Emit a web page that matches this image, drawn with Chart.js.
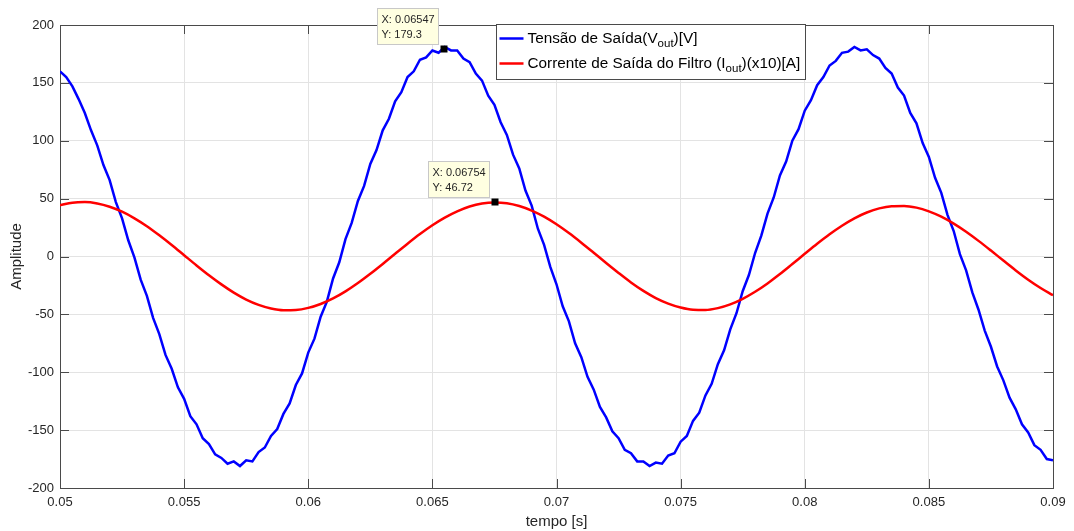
<!DOCTYPE html>
<html>
<head>
<meta charset="utf-8">
<script src="https://cdn.jsdelivr.net/npm/chart.js@4.4.0/dist/chart.umd.min.js"></script>
<style>
  html, body { margin: 0; padding: 0; background: #fff; }
  #wrap { width: 1074px; height: 531px; }
</style>
</head>
<body>
<div id="wrap"><canvas id="chart" width="1074" height="531"></canvas></div>
<script>
// ── Data ──────────────────────────────────────────────
const tStart = 0.05;
const dtVout = 0.00025;   // sampling step of the voltage trace
const dtIout = 0.0005;    // sampling step of the current trace

// Tensão de Saída [V]
const vout = [
  160, 155, 147, 136, 124, 109, 96, 79, 66, 47,
  33, 14, -1, -20, -34, -53, -67, -85, -97, -113,
  -123, -138, -145, -157, -162, -171, -174, -179, -177, -181,
  -176, -177, -169, -165, -155, -149, -136, -127, -111, -101,
  -83, -71, -52, -39, -19, -5, 15, 29, 48, 61,
  80, 92, 109, 119, 134, 142, 155, 160, 170, 172,
  178, 176, 181, 178, 178, 171, 168, 158, 152, 139,
  131, 116, 105, 88, 76, 57, 44, 24, 10, -9,
  -24, -43, -56, -75, -87, -104, -115, -130, -139, -151,
  -157, -167, -170, -177, -177, -181, -178, -179, -172, -170,
  -160, -155, -142, -135, -120, -110, -93, -81, -63, -49,
  -30, -16, 3, 18, 37, 51, 70, 82, 100, 110,
  126, 135, 148, 155, 165, 169, 176, 177, 181, 178,
  179, 174, 171, 163, 158, 146, 139, 124, 115, 98,
  86, 68, 55, 36, 22, 2, -12, -31, -46, -64,
  -78, -95, -107, -122, -132, -145, -152, -163, -167, -175,
  -176
];

// Corrente de Saída do Filtro (x10) [A]
const iout = [
  44.3, 46.5, 47.0, 45.8, 43.0, 38.7, 33.0, 26.2, 18.3, 9.9,
  1.1, -7.7, -16.2, -24.1, -31.2, -37.2, -41.8, -44.9, -46.4, -46.2,
  -44.4, -41.0, -36.2, -30.1, -22.9, -14.9, -6.4, 2.4, 11.1, 19.4,
  27.0, 33.6, 39.0, 43.2, 45.8, 46.7, 46.0, 43.6, 39.7, 34.4,
  27.8, 20.2, 11.9, 3.2, -5.6, -14.2, -22.4, -29.7, -35.9, -40.7,
  -44.1, -46.0, -46.2, -44.6, -41.4, -36.6, -30.5, -23.3, -15.2, -6.5,
  2.3, 11.0, 19.2, 26.6, 33.0, 38.0, 41.6, 43.5, 43.7, 42.2,
  39.0, 34.4, 28.4, 21.4, 13.5, 5.1, -3.5, -12.0, -20.0, -27.2,
  -33.5
];

const xTicks      = [0.05, 0.055, 0.06, 0.065, 0.07, 0.075, 0.08, 0.085, 0.09];
const xTickLabels = ["0.05", "0.055", "0.06", "0.065", "0.07", "0.075", "0.08", "0.085", "0.09"];
const yTicks      = [-200, -150, -100, -50, 0, 50, 100, 150, 200];

// data tips
const tipX      = [0.06547, 0.06754];
const tipY      = [179.3, 46.72];
const tipXLabel = ["0.06547", "0.06754"];
const tipYLabel = ["179.3", "46.72"];

// legend entries: [text before subscript, subscript, text after]
const legendParts = [
  ["Tensão de Saída(V", "out", ")[V]"],
  ["Corrente de Saída do Filtro (I", "out", ")(x10)[A]"]
];
const seriesColors = ["#0000ff", "#ff0000"];

const FONT = "Arial, 'Liberation Sans', Helvetica, sans-serif";
const AXIS = "#262626";

// ── Helpers ───────────────────────────────────────────
const toPoints = (vals, dt) => vals.map((v, i) => ({ x: tStart + i * dt, y: v }));

// ── Box + inward ticks (MATLAB look) ──────────────────
const boxPlugin = {
  id: "box",
  beforeDatasetsDraw(chart) {
    const { ctx, chartArea: a, scales: { x, y } } = chart;
    const tl = 9;
    ctx.save();
    ctx.strokeStyle = "#4a4a4a";
    ctx.lineWidth = 1;
    ctx.beginPath();
    xTicks.forEach(v => {
      const px = Math.round(x.getPixelForValue(v)) + 0.5;
      ctx.moveTo(px, a.bottom); ctx.lineTo(px, a.bottom - tl);
      ctx.moveTo(px, a.top);    ctx.lineTo(px, a.top + tl);
    });
    yTicks.forEach(v => {
      const py = Math.round(y.getPixelForValue(v)) + 0.5;
      ctx.moveTo(a.left, py);  ctx.lineTo(a.left + tl, py);
      ctx.moveTo(a.right, py); ctx.lineTo(a.right - tl, py);
    });
    ctx.stroke();
    ctx.strokeRect(Math.round(a.left) + 0.5, Math.round(a.top) + 0.5,
                   Math.round(a.right - a.left), Math.round(a.bottom - a.top));
    ctx.restore();
  }
};

// ── Data tips + legend ────────────────────────────────
const overlayPlugin = {
  id: "overlay",
  afterDraw(chart) {
    const { ctx, chartArea: a, scales: { x, y } } = chart;
    ctx.save();

    // data tips
    tipX.forEach((tx, i) => {
      const mx = x.getPixelForValue(tx);
      const my = y.getPixelForValue(tipY[i]);
      const bx = Math.round(mx - 67) + 0.5, by = Math.round(my - 41) + 0.5;
      ctx.fillStyle = "#ffffe1";
      ctx.strokeStyle = "#c8c8c8";
      ctx.lineWidth = 1;
      ctx.fillRect(bx, by, 61, 36);
      ctx.strokeRect(bx, by, 61, 36);
      ctx.fillStyle = AXIS;
      ctx.font = "11px " + FONT;
      ctx.textBaseline = "middle";
      ctx.textAlign = "left";
      ctx.fillText("X: " + tipXLabel[i], bx + 4, by + 11);
      ctx.fillText("Y: " + tipYLabel[i], bx + 4, by + 26);
      ctx.fillStyle = "#000";
      ctx.fillRect(Math.round(mx) - 3.5, Math.round(my) - 3.5, 7, 7);
    });

    // legend
    const mainFont = "15.3px " + FONT, subFont = "11.5px " + FONT;
    const widthOf = parts => {
      ctx.font = mainFont; let w = ctx.measureText(parts[0]).width + ctx.measureText(parts[2]).width;
      ctx.font = subFont;  w += ctx.measureText(parts[1]).width;
      return w;
    };
    const textW = Math.max(...legendParts.map(widthOf));
    const lx = Math.round(a.left + 436) + 0.5, ly = Math.round(a.top - 1) + 0.5;
    const lw = Math.round(31 + textW + 5), lh = 55;
    ctx.fillStyle = "#fff";
    ctx.fillRect(lx, ly, lw, lh);
    ctx.strokeStyle = "#4a4a4a";
    ctx.lineWidth = 1;
    ctx.strokeRect(lx, ly, lw, lh);
    legendParts.forEach((parts, i) => {
      const ry = ly + 14 + i * 25;
      ctx.strokeStyle = seriesColors[i];
      ctx.lineWidth = 2.5;
      ctx.beginPath(); ctx.moveTo(lx + 3, ry); ctx.lineTo(lx + 27, ry); ctx.stroke();
      ctx.fillStyle = "#000";
      ctx.textBaseline = "middle";
      let cx = lx + 31;
      ctx.font = mainFont; ctx.fillText(parts[0], cx, ry); cx += ctx.measureText(parts[0]).width;
      ctx.font = subFont;  ctx.fillText(parts[1], cx, ry + 5); cx += ctx.measureText(parts[1]).width;
      ctx.font = mainFont; ctx.fillText(parts[2], cx, ry);
    });
    ctx.restore();
  }
};

// ── Chart ─────────────────────────────────────────────
new Chart(document.getElementById("chart"), {
  type: "line",
  data: {
    datasets: [
      {
        label: "Tensão de Saída(Vout)[V]",
        data: toPoints(vout, dtVout),
        borderColor: seriesColors[0],
        borderWidth: 2.5,
        pointRadius: 0,
        tension: 0,
        order: 1
      },
      {
        label: "Corrente de Saída do Filtro (Iout)(x10)[A]",
        data: toPoints(iout, dtIout),
        borderColor: seriesColors[1],
        borderWidth: 2.5,
        pointRadius: 0,
        tension: 0.4,
        cubicInterpolationMode: "monotone",
        order: 0
      }
    ]
  },
  options: {
    responsive: false,
    animation: false,
    layout: { padding: { top: 25, right: 21, left: 0, bottom: 0 } },
    plugins: { legend: { display: false }, tooltip: { enabled: false } },
    scales: {
      x: {
        type: "linear", min: 0.05, max: 0.09,
        afterBuildTicks: s => { s.ticks = xTicks.map(v => ({ value: v })); },
        afterFit: s => { s.height = 43; },
        grid: { color: "#e3e3e3", drawTicks: false },
        border: { display: false },
        ticks: {
          padding: 7, color: AXIS, maxRotation: 0, autoSkip: false,
          font: { family: FONT, size: 13 },
          callback: (v, i) => xTickLabels[i]
        },
        title: { display: true, text: "tempo [s]", color: AXIS,
                 font: { family: FONT, size: 15 }, padding: { top: 0, bottom: 0 } }
      },
      y: {
        min: -200, max: 200,
        afterBuildTicks: s => { s.ticks = yTicks.map(v => ({ value: v })); },
        afterFit: s => { s.width = 60; },
        grid: { color: "#e3e3e3", drawTicks: false },
        border: { display: false },
        ticks: { padding: 6, color: AXIS, font: { family: FONT, size: 13 } },
        title: { display: true, text: "Amplitude", color: AXIS,
                 font: { family: FONT, size: 15 }, padding: { top: 8, bottom: 0 } }
      }
    }
  },
  plugins: [boxPlugin, overlayPlugin]
});
</script>
</body>
</html>
